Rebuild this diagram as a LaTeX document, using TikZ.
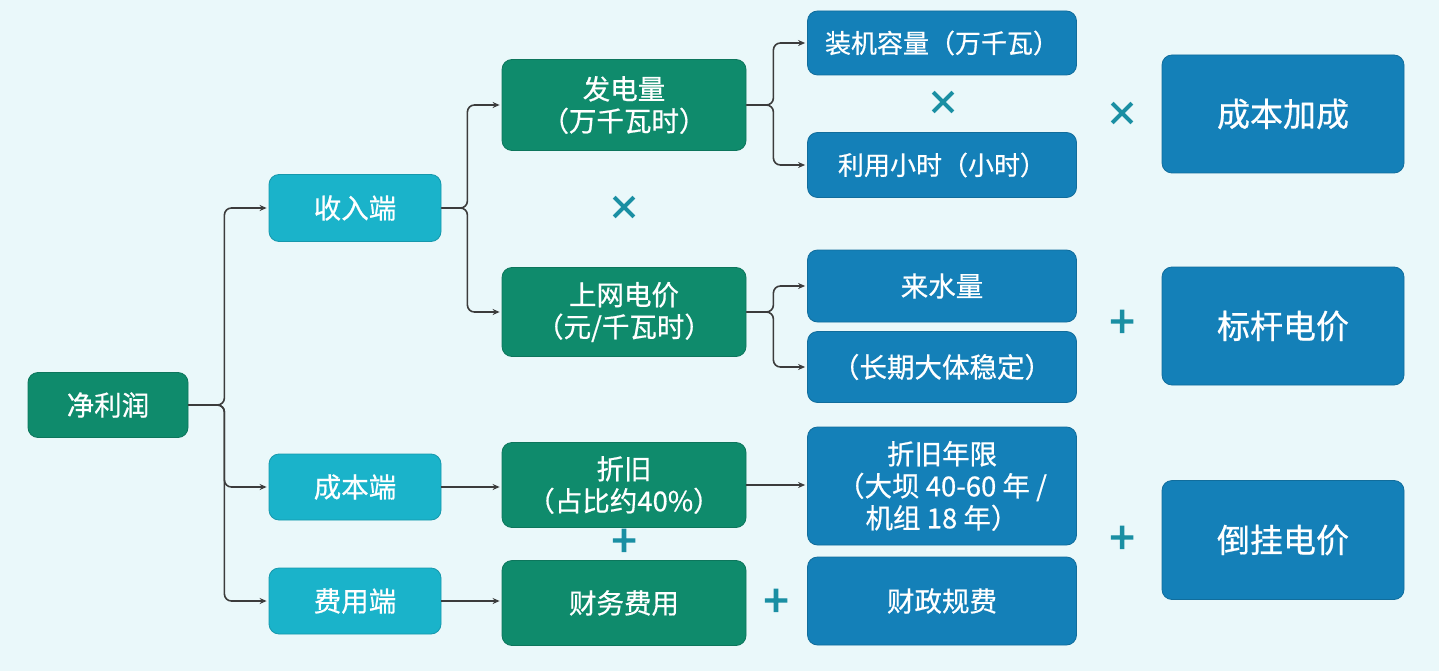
\documentclass[tikz,border=0pt]{standalone}
\usepackage{fontspec}
\setmainfont[FakeBold=0.6]{Noto Sans CJK SC}
\newfontfamily\opfont[FakeBold=3]{Noto Sans CJK SC}
\newfontfamily\opxfont{Noto Sans CJK SC}
\usetikzlibrary{arrows.meta}
\definecolor{bg}{HTML}{EAF8FA}
\definecolor{cgreen}{HTML}{0F8B6C}
\definecolor{ccyan}{HTML}{1AB3CA}
\definecolor{cblue}{HTML}{1480B8}
\definecolor{cop}{HTML}{1A8FA3}
\definecolor{cline}{HTML}{3C3C3C}
\tikzset{
  box/.style={rounded corners=10pt, inner sep=0pt, text=white, align=center, draw=#1!85!black, line width=0.8pt, fill=#1},
  t28/.style={font=\fontsize{27.5}{32}\selectfont},
  t26/.style={font=\fontsize{26}{31}\selectfont},
  t34/.style={font=\fontsize{33}{40}\selectfont},
  conn/.style={draw=cline, line width=1.6pt, rounded corners=7pt, -{Stealth[length=7pt,width=6pt]}, shorten >=2pt},
  op/.style={text=cop, font=\opfont\fontsize{44}{44}\selectfont, inner sep=0pt},
  opx/.style={text=cop, font=\opxfont\fontsize{34}{34}\selectfont\bfseries, inner sep=0pt},
}
\begin{document}
\begin{tikzpicture}[x=1pt,y=-1pt]
\fill[bg] (0,0) rectangle (1439,671);
\useasboundingbox (0,0) rectangle (1439,671);
% level 0
\node[box=cgreen, t28, minimum width=160pt, minimum height=65pt] (jlr) at (108,405) {净利润};
% level 1
\node[box=ccyan, t28, minimum width=172pt, minimum height=67pt] (sr) at (355,208) {收入端};
\node[box=ccyan, t28, minimum width=172pt, minimum height=66pt] (cb) at (355,487) {成本端};
\node[box=ccyan, t28, minimum width=172pt, minimum height=66pt] (fy) at (355,601) {费用端};
% level 2
\node[box=cgreen, t28, minimum width=244pt, minimum height=91pt] (fdl) at (624,105) {发电量\\（万千瓦时）};
\node[box=cgreen, t28, minimum width=244pt, minimum height=89pt] (swdj) at (624,312) {上网电价\\（元/千瓦时）};
\node[box=cgreen, t28, minimum width=244pt, minimum height=85pt] (zj) at (624,485) {折旧\\（占比约40\%）};
\node[box=cgreen, t28, minimum width=244pt, minimum height=85pt] (cwfy) at (624,603) {财务费用};
% level 3
\node[box=cblue, t26, minimum width=269pt, minimum height=64pt] (zjrl) at (942,43) {装机容量（万千瓦）};
\node[box=cblue, t26, minimum width=269pt, minimum height=65pt] (lyxs) at (942,165) {利用小时（小时）};
\node[box=cblue, t28, minimum width=269pt, minimum height=72pt] (lsl) at (942,286) {来水量};
\node[box=cblue, t28, minimum width=269pt, minimum height=71pt] (cqdt) at (942,367) {（长期大体稳定）};
\node[box=cblue, t28, minimum width=269pt, minimum height=118pt] (zjnx) at (942,486) {折旧年限\\（大坝 40-60 年 /\\机组 18 年）};
\node[box=cblue, t28, minimum width=269pt, minimum height=88pt] (czgf) at (942,601) {财政规费};
% level 4
\node[box=cblue, t34, minimum width=242pt, minimum height=118pt] (cbjc) at (1283,114) {成本加成};
\node[box=cblue, t34, minimum width=242pt, minimum height=118pt] (bgdj) at (1283,326) {标杆电价};
\node[box=cblue, t34, minimum width=242pt, minimum height=119pt] (dgdj) at (1283,540) {倒挂电价};
% operators
\node[opx] (o1) at (943,103) {×};
\node[opx] (o2) at (1122,114) {×};
\node[opx] (o3) at (624,208) {×};
\node[op] (o4) at (1122,324) {+};
\node[op] (o5) at (624,543) {+};
\node[op] (o6) at (776,603) {+};
\node[op] (o7) at (1122,540) {+};
% connectors
\draw[conn] (jlr.east) -- ++(36,0) |- (sr.west);
\draw[conn] (jlr.east) -- ++(36,0) |- (cb.west);
\draw[conn] (jlr.east) -- ++(36,0) |- (fy.west);
\draw[conn] (sr.east) -- ++(26,0) |- (fdl.west);
\draw[conn] (sr.east) -- ++(26,0) |- (swdj.west);
\draw[conn] (fdl.east) -- ++(27,0) |- (zjrl.west);
\draw[conn] (fdl.east) -- ++(27,0) |- (lyxs.west);
\draw[conn] (swdj.east) -- ++(27,0) |- (lsl.west);
\draw[conn] (swdj.east) -- ++(27,0) |- (cqdt.west);
\draw[conn] (cb.east) -- (zj.west |- cb.east);
\draw[conn] (fy.east) -- (cwfy.west |- fy.east);
\draw[conn] (zj.east) -- (zjnx.west |- zj.east);
\end{tikzpicture}
\end{document}
